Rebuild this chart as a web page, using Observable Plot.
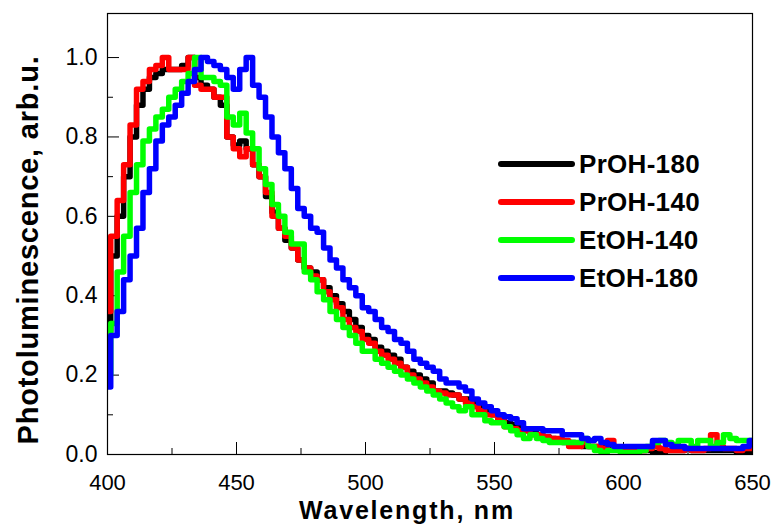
<!DOCTYPE html>
<html><head><meta charset="utf-8">
<script src="https://cdn.jsdelivr.net/npm/d3@7"></script>
<script src="https://cdn.jsdelivr.net/npm/@observablehq/plot@0.6"></script>
<style>
body{margin:0;background:#fff;}
#wrap{position:relative;width:775px;height:529px;font-family:"Liberation Sans",Arial,sans-serif;}
#legend{position:absolute;left:497px;top:145px;}
.row{display:flex;align-items:center;height:38px;}
.row span{font-weight:bold;font-size:26px;margin-left:2px;letter-spacing:0.3px;color:#000;}
</style></head><body><div id="wrap"></div>
<script>
const wavelength = [400,402.5,405,407.5,410,412.5,415,417.5,420,422.5,425,427.5,430,432.5,435,437.5,440,442.5,445,447.5,
450,452.5,455,457.5,460,462.5,465,467.5,470,472.5,475,477.5,480,482.5,485,487.5,490,492.5,495,497.5,
500,502.5,505,507.5,510,512.5,515,517.5,520,522.5,525,527.5,530,532.5,535,537.5,540,542.5,545,547.5,
550,552.5,555,557.5,560,562.5,565,567.5,570,572.5,575,577.5,580,582.5,585,587.5,590,592.5,595,597.5,
600,602.5,605,607.5,610,612.5,615,617.5,620,622.5,625,627.5,630,632.5,635,637.5,640,642.5,645,647.5,650];

const prOH180 = [0.31,0.50,0.60,0.70,0.80,0.88,0.92,0.95,0.96,0.97,0.97,0.97,0.98,
1.00,0.95,0.93,0.92,0.90,0.88,0.80,0.78,
0.79,0.77,0.73,0.70,0.65,0.61,0.57,0.54,
0.52,0.49,0.47,0.46,0.44,0.42,0.40,0.38,
0.36,0.34,0.32,0.30,0.29,0.27,0.26,0.25,
0.24,0.22,0.21,0.20,0.19,0.18,0.16,0.16,
0.155,0.15,0.14,0.14,0.13,0.12,0.11,0.10,
0.09,0.08,0.075,0.07,0.06,0.055,0.05,0.045,
0.04,0.035,0.03,0.03,0.025,0.02,0.02,0.02,
0.02,0.015,0.015,0.01,0.01,0.01,0.01,0.01,
0.005,0.005,0.01,0.01,0.01,0.015,0.01,0.01,
0.01,0.01,0.01,0.01,0.01,0.005,0.005,0.005];

const prOH140 = [0.36,0.55,0.64,0.73,0.83,0.92,0.94,0.97,0.98,1.00,0.97,0.97,0.97,
1.00,0.93,0.92,0.92,0.90,0.90,0.80,0.77,
0.75,0.77,0.73,0.70,0.66,0.60,0.57,0.55,
0.52,0.49,0.47,0.45,0.44,0.41,0.39,0.37,
0.34,0.32,0.31,0.29,0.28,0.26,0.25,0.24,
0.23,0.22,0.20,0.19,0.18,0.17,0.16,0.155,
0.15,0.15,0.14,0.13,0.12,0.11,0.10,0.10,
0.09,0.07,0.065,0.06,0.06,0.05,0.05,0.045,
0.04,0.04,0.035,0.02,0.02,0.03,0.02,0.02,
0.015,0.035,0.015,0.01,0.01,0.01,0.01,0.015,
0.02,0.015,0.01,0.01,0.01,0.015,0.01,0.01,
0.015,0.05,0.02,0.015,0.015,0.01,0.015,0.015];

const etOH140 = [0.20,0.33,0.46,0.55,0.66,0.73,0.79,0.82,0.85,0.87,0.90,0.92,0.94,
0.96,1.00,0.95,0.95,0.94,0.93,0.85,0.83,
0.86,0.81,0.77,0.72,0.68,0.63,0.60,0.56,
0.53,0.53,0.46,0.44,0.41,0.39,0.36,0.34,
0.32,0.30,0.28,0.26,0.26,0.24,0.23,0.22,
0.21,0.20,0.19,0.18,0.17,0.16,0.15,0.14,
0.13,0.12,0.11,0.12,0.10,0.10,0.085,0.08,
0.08,0.07,0.06,0.05,0.04,0.05,0.04,0.035,
0.03,0.03,0.03,0.03,0.03,0.04,0.02,0.01,
0.005,0.01,0.01,0.005,0.005,0.005,0.01,0.02,
0.03,0.035,0.03,0.025,0.035,0.035,0.02,0.035,
0.035,0.02,0.03,0.05,0.04,0.035,0.035,0.035];

const etOH180 = [0.17,0.30,0.36,0.44,0.50,0.57,0.66,0.72,0.79,0.83,0.85,0.88,0.91,
0.94,0.97,1.00,0.99,0.98,0.97,0.95,0.92,
0.97,1.00,0.93,0.90,0.85,0.80,0.76,0.72,
0.67,0.62,0.60,0.57,0.56,0.52,0.49,0.47,
0.44,0.42,0.40,0.37,0.36,0.34,0.32,0.31,
0.29,0.28,0.26,0.24,0.23,0.22,0.21,0.19,
0.18,0.18,0.17,0.16,0.14,0.13,0.12,0.11,
0.10,0.095,0.09,0.08,0.065,0.065,0.065,0.06,
0.06,0.06,0.05,0.05,0.05,0.04,0.035,0.04,
0.03,0.025,0.02,0.02,0.02,0.02,0.02,0.02,
0.035,0.035,0.025,0.02,0.02,0.015,0.015,0.015,
0.015,0.015,0.015,0.015,0.015,0.015,0.02,0.035];

const seriesNames = ["PrOH-180","PrOH-140","EtOH-140","EtOH-180"];
const seriesColors = ["#000000","#ff0000","#00ff00","#0000ff"];
const seriesValues = [prOH180, prOH140, etOH140, etOH180];

const xTicks = [400,450,500,550,600,650];
const xMinor = [425,475,525,575,625];
const yTicks = [0,0.2,0.4,0.6,0.8,1.0];
const yMinor = [0.1,0.3,0.5,0.7,0.9];
const xTitle = "Wavelength, nm";
const yTitle = "Photoluminescence, arb.u.";

const W = 775, H = 529, mL = 107, mR = 23, mT = 13, mB = 75;
const iw = W - mL - mR, ih = H - mT - mB;

const rows = [];
seriesNames.forEach((name, i) => {
  wavelength.forEach((w, j) => rows.push({series: name, wavelength: w, value: seriesValues[i][j]}));
});

const lineMarks = seriesNames.map((name, i) =>
  Plot.line(rows.filter(r => r.series === name), {
    x: "wavelength", y: "value", stroke: seriesColors[i], strokeWidth: 5.5,
    curve: "step", strokeLinejoin: "round", strokeLinecap: "round", clip: true
  })
);

const chart = Plot.plot({
  width: W, height: H,
  marginLeft: mL, marginRight: mR, marginTop: mT, marginBottom: mB,
  style: {fontFamily: "'Liberation Sans', Arial, sans-serif", background: "#fff", color: "#000"},
  x: {domain: [400, 650]},
  y: {domain: [0, 1.111]},
  marks: [
    Plot.axisX(xTicks, {tickSize: 0, tickPadding: 20, fontSize: 22, label: null}),
    Plot.axisY(yTicks, {tickSize: 0, tickPadding: 10, fontSize: 23, tickFormat: d3.format(".1f"), label: null}),
    Plot.tickX(xTicks, {x: d => d, insetTop: ih - 12, stroke: "#000"}),
    Plot.tickX(xMinor, {x: d => d, insetTop: ih - 6, stroke: "#000"}),
    Plot.tickY(yTicks, {y: d => d, insetRight: iw - 12, stroke: "#000"}),
    Plot.tickY(yMinor, {y: d => d, insetRight: iw - 6, stroke: "#000"}),
    ...lineMarks,
    Plot.frame({stroke: "#000", strokeWidth: 1.2}),
    Plot.text([xTitle], {text: d => d, frameAnchor: "bottom", textAnchor: "middle", lineAnchor: "middle", dx: -23, dy: 56, fontSize: 25, fontWeight: "bold", fill: "#000"}),
    Plot.text([yTitle], {text: d => d, frameAnchor: "left", textAnchor: "middle", lineAnchor: "middle", rotate: -90, dx: -79, dy: 16, fontSize: 29, fontWeight: "bold", fill: "#000"})
  ]
});

d3.select(chart).selectAll("text").each(function() {
  const t = this.textContent;
  if (t === xTitle) this.setAttribute("letter-spacing", "1.8");
  if (t === yTitle) this.setAttribute("letter-spacing", "0.8");
});

const wrap = document.getElementById("wrap");
wrap.appendChild(chart);

const legend = document.createElement("div");
legend.id = "legend";
seriesNames.forEach((name, i) => {
  const row = document.createElement("div");
  row.className = "row";
  row.innerHTML = `<svg width="80" height="10"><line x1="4" y1="5" x2="75" y2="5" stroke="${seriesColors[i]}" stroke-width="6" stroke-linecap="round"/></svg><span>${name}</span>`;
  legend.appendChild(row);
});
wrap.appendChild(legend);
</script></body></html>
